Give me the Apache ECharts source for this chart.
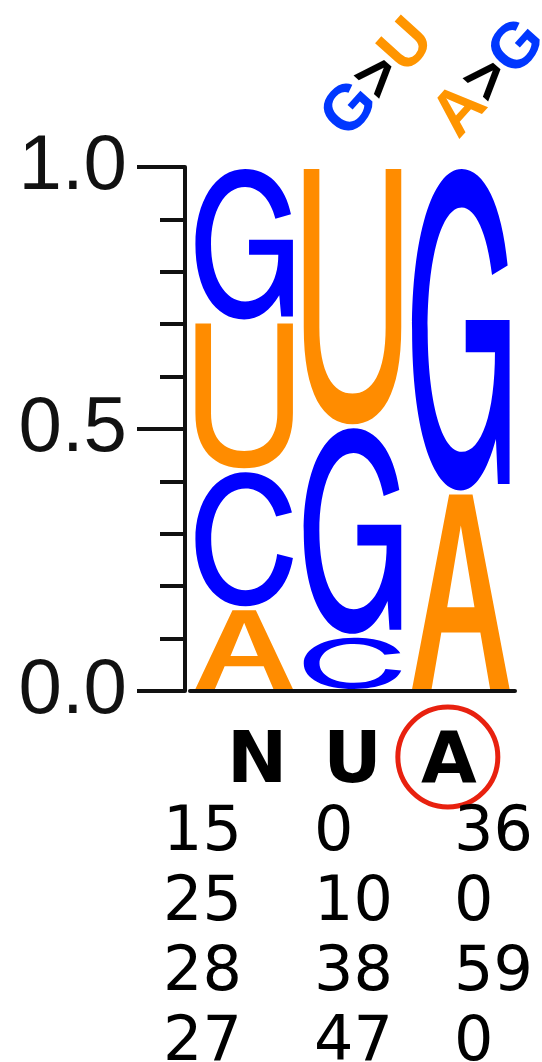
<!DOCTYPE html>
<html>
<head>
<meta charset="utf-8">
<script src="https://cdn.jsdelivr.net/npm/echarts@6/dist/echarts.min.js"></script>
<style>
  html, body { margin: 0; padding: 0; background: #fff; }
  #chart { width: 542px; height: 1062px; }
</style>
</head>
<body>
<div id="chart"></div>
<script>
// positions in the motif and per-base counts (rows of the table under the logo)
const positions = ['N', 'U', 'A'];
const bases = ['A', 'C', 'G', 'U'];
const countA = [15, 0, 36];
const countC = [25, 10, 0];
const countG = [28, 38, 59];
const countU = [27, 47, 0];
const yTicks = [0, 0.5, 1.0];
// substitution notes drawn above a column
const notes = [
  { pos: 'U', from: 'G', to: 'U' },
  { pos: 'A', from: 'A', to: 'G' }
];
const circled = 'A';

const counts = { A: countA, C: countC, G: countG, U: countU };
const BLUE = '#0000ff';
const ORANGE = '#ff8c00';
const COLORS = { A: ORANGE, C: BLUE, G: BLUE, U: ORANGE };
const NOTE_COLORS = { A: '#ff9500', C: '#0037ff', G: '#0037ff', U: '#ff9500' };

// letter outlines in a 100x100 box, stretched into each cell
const GLYPHS = {
  A: 'M0,100 L38,0 L62,0 L100,100 L80,100 L70,71 L30,71 L20,100 Z M36,58 L64,58 L50,16 Z',
  C: 'M98,30 C92,11 74,0 51,0 C20,0 0,22 0,50 C0,80 20,100 51,100 C76,100 94,86 99,64 L83,61 C80,78 68,88 51,88 C30,88 16,72 16,50 C16,28 30,12 51,12 C65,12 77,20 82,33 Z',
  G: 'M98,30 C92,11 74,0 51,0 C20,0 0,22 0,50 C0,80 20,100 50,100 C65,100 77,94 86,84 L88,98 L100,98 L100,47 L55,47 L55,57 L85,57 C85,76 71,88 51,88 C30,88 16,72 16,50 C16,28 30,12 51,12 C65,12 77,20 82,33 Z',
  U: 'M0,0 L16,0 L16,62 C16,80 30,88 50,88 C70,88 84,80 84,62 L84,0 L100,0 L100,62 C100,88 80,100 50,100 C20,100 0,88 0,62 Z'
};

// stack each column smallest at the bottom, as fractions of the column total
const stacks = [];
positions.forEach((p, i) => {
  const col = bases.map((b, bi) => ({ b: bi, n: counts[b][i] })).filter(d => d.n > 0);
  const total = col.reduce((s, d) => s + d.n, 0);
  col.sort((a, b) => a.n - b.n);
  let acc = 0;
  col.forEach(d => {
    const y0 = acc / total;
    acc += d.n;
    stacks.push([i, y0, acc / total, d.b]);
  });
});

const chart = echarts.init(document.getElementById('chart'));

const axisColor = '#111';
const bold = { fontSize: 72, fontWeight: 'bold', fontFamily: 'DejaVu Sans', color: '#000' };

chart.setOption({
  animation: false,
  grid: { left: 190, right: 27, top: 167, bottom: 371 },
  xAxis: {
    type: 'category',
    data: positions,
    axisLine: { lineStyle: { color: axisColor, width: 4 } },
    axisTick: { alignWithLabel: true, length: 10, lineStyle: { color: axisColor, width: 4 } },
    axisLabel: {
      margin: 36,
      formatter: v => '{' + v + '|' + v + '}',
      rich: {
        N: Object.assign({ padding: [0, 0, 0, 26] }, bold),
        U: Object.assign({}, bold),
        A: Object.assign({ padding: [0, 24, 0, 0] }, bold)
      }
    }
  },
  yAxis: {
    type: 'value',
    min: 0,
    max: 1,
    interval: 0.5,
    offset: 5,
    axisLine: { show: true, lineStyle: { color: axisColor, width: 4 } },
    axisTick: { show: true, length: 48, lineStyle: { color: axisColor, width: 4 } },
    minorTick: { show: true, splitNumber: 5, length: 25, lineStyle: { color: axisColor, width: 4 } },
    splitLine: { show: false },
    axisLabel: {
      margin: 58,
      fontSize: 78,
      fontFamily: 'Liberation Sans',
      color: axisColor,
      formatter: v => (yTicks.indexOf(v) >= 0 ? v.toFixed(1) : '')
    }
  },
  series: [{
    type: 'custom',
    data: stacks,
    encode: { x: 0, y: [1, 2] },
    renderItem(params, api) {
      const col = api.value(0);
      const bottom = api.coord([col, api.value(1)]);
      const top = api.coord([col, api.value(2)]);
      const w = api.size([1, 0])[0] * 0.9;
      const b = bases[api.value(3)];
      return {
        type: 'path',
        shape: {
          pathData: GLYPHS[b],
          x: bottom[0] - w / 2,
          y: top[1] + 2,
          width: w,
          height: bottom[1] - top[1] - 4,
          layout: 'cover'
        },
        style: { fill: COLORS[b] }
      };
    }
  }]
});

// annotations: substitution notes, the circled base and the count table
const graphics = [];
const colX = p => chart.convertToPixel({ xAxisIndex: 0 }, p);
const noteFont = { fontSize: 64, fontWeight: 'bold', fontFamily: 'Liberation Sans' };
const noteShift = { U: 26, A: 29 };

notes.forEach(n => {
  graphics.push({
    type: 'text',
    x: colX(n.pos) + noteShift[n.pos],
    y: 79,
    rotation: 48 * Math.PI / 180,
    style: {
      text: '{f|' + n.from + '}{k|>}{t|' + n.to + '}',
      align: 'center',
      verticalAlign: 'middle',
      rich: {
        f: Object.assign({ fill: NOTE_COLORS[n.from] }, noteFont),
        k: Object.assign({ fill: '#000' }, noteFont),
        t: Object.assign({ fill: NOTE_COLORS[n.to] }, noteFont)
      }
    }
  });
});

graphics.push({
  type: 'circle',
  shape: { cx: colX(circled) - 13, cy: 757, r: 50 },
  style: { fill: 'none', stroke: '#e8210f', lineWidth: 5 }
});

const tableX = [163, 314, 454];
bases.forEach((b, r) => {
  counts[b].forEach((n, i) => {
    graphics.push({
      type: 'text',
      x: tableX[i],
      y: 834 + r * 70,
      style: {
        text: String(n),
        align: 'left',
        verticalAlign: 'middle',
        fontSize: 62,
        fontFamily: 'DejaVu Sans',
        fill: '#000'
      }
    });
  });
});

chart.setOption({ graphic: graphics });
</script>
</body>
</html>
